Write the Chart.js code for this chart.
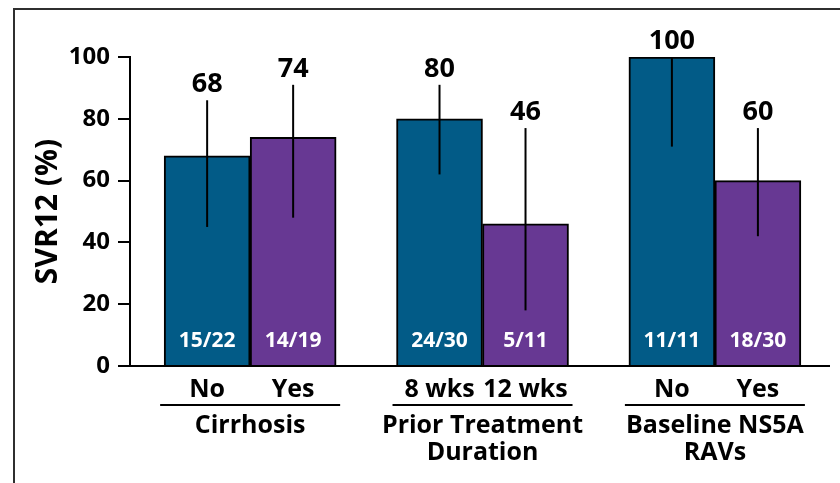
<!DOCTYPE html>
<html>
<head>
<meta charset="utf-8">
<script src="https://cdn.jsdelivr.net/npm/chart.js@4.4.1/dist/chart.umd.min.js"></script>
<style>
  html, body { margin: 0; padding: 0; background: #ffffff; }
  #wrap { position: relative; width: 840px; height: 483px; overflow: hidden; }
  #frame { position: absolute; left: 13px; top: 8px; right: -4px; bottom: -4px;
           border-left: 2px solid #2f2f2f; border-top: 2px solid #2f2f2f; }
  #c { position: absolute; left: 0; top: 0; }
</style>
</head>
<body>
<div id="wrap">
  <div id="frame"></div>
  <canvas id="c" width="840" height="483"></canvas>
</div>
<script>
// Subgroups and their SVR12 rates (%), with 95% confidence limits
const groupLabels = [['Cirrhosis'], ['Prior Treatment', 'Duration'], ['Baseline NS5A', 'RAVs']];
const firstLabels = ['No', '8 wks', 'No'];
const secondLabels = ['Yes', '12 wks', 'Yes'];
const firstSVR = [68, 80, 100];
const secondSVR = [74, 46, 60];
const firstLow = [45, 62, 71];
const firstHigh = [86, 91, 100];
const secondLow = [48, 18, 42];
const secondHigh = [91, 77, 77];
const firstCounts = ['15/22', '24/30', '11/11'];
const secondCounts = ['14/19', '5/11', '18/30'];
const yTicks = [0, 20, 40, 60, 80, 100];

const BLUE = '#025b87';
const PURPLE = '#673893';
const FONT = "'Open Sans', 'Noto Sans', sans-serif";

Chart.defaults.font.family = FONT;
Chart.defaults.color = '#000';

const toPoints = vals => vals.map((v, i) => ({ x: i, y: v }));

// Error bars, value labels, n/N counts, subgroup labels and bracket lines
const annotate = {
  id: 'annotate',
  afterDatasetsDraw(chart) {
    const ctx = chart.ctx;
    const y = chart.scales.y;
    const base = y.getPixelForValue(0);
    const lows = [firstLow, secondLow];
    const highs = [firstHigh, secondHigh];
    const values = [firstSVR, secondSVR];
    const counts = [firstCounts, secondCounts];
    const subs = [firstLabels, secondLabels];
    ctx.save();
    chart.data.datasets.forEach((ds, d) => {
      const meta = chart.getDatasetMeta(d);
      meta.data.forEach((bar, i) => {
        const hi = y.getPixelForValue(highs[d][i]);
        const lo = y.getPixelForValue(lows[d][i]);
        ctx.strokeStyle = '#000';
        ctx.lineWidth = 2;
        ctx.beginPath();
        ctx.moveTo(bar.x, lo);
        ctx.lineTo(bar.x, hi);
        ctx.stroke();

        ctx.textAlign = 'center';
        ctx.fillStyle = '#000';
        ctx.font = 'bold 27px ' + FONT;
        ctx.textBaseline = 'alphabetic';
        ctx.fillText(String(values[d][i]), bar.x, hi - 8);

        ctx.fillStyle = '#fff';
        ctx.font = 'bold 21px ' + FONT;
        ctx.textBaseline = 'middle';
        ctx.fillText(counts[d][i], bar.x, base - 25);

        ctx.fillStyle = '#000';
        ctx.font = 'bold 25px ' + FONT;
        ctx.fillText(subs[d][i], bar.x, base + 24);
      });
    });
    const m0 = chart.getDatasetMeta(0).data;
    const m1 = chart.getDatasetMeta(1).data;
    const lineY = base + 39;
    ctx.strokeStyle = '#000';
    ctx.lineWidth = 2;
    m0.forEach((b, i) => {
      const left = b.x - b.width / 2 - 4;
      const right = m1[i].x + m1[i].width / 2 + 4;
      ctx.beginPath();
      ctx.moveTo(left, lineY);
      ctx.lineTo(right, lineY);
      ctx.stroke();
    });
    ctx.restore();
  }
};

new Chart(document.getElementById('c'), {
  type: 'bar',
  data: {
    datasets: [
      {
        label: 'First subgroup',
        data: toPoints(firstSVR),
        backgroundColor: BLUE,
        borderColor: '#000',
        borderWidth: 2,
        barThickness: 86
      },
      {
        label: 'Second subgroup',
        data: toPoints(secondSVR),
        backgroundColor: PURPLE,
        borderColor: '#000',
        borderWidth: 2,
        barThickness: 86
      }
    ]
  },
  options: {
    responsive: false,
    animation: false,
    layout: { padding: { top: 57, right: 11, left: 0, bottom: 0 } },
    plugins: { legend: { display: false }, tooltip: { enabled: false } },
    scales: {
      x: {
        type: 'linear',
        offset: false,
        min: -0.517,
        max: 2.491,
        afterBuildTicks: s => { s.ticks = groupLabels.map((g, i) => ({ value: i })); },
        afterFit: s => { s.height = 117; },
        grid: { display: false, drawTicks: true, tickLength: 46 },
        border: { display: true, color: '#000', width: 2 },
        ticks: {
          autoSkip: false,
          maxRotation: 0,
          padding: 0,
          color: '#000',
          font: { size: 25, weight: 'bold', lineHeight: 1.08 },
          callback: (v, i) => groupLabels[i]
        }
      },
      y: {
        min: 0,
        max: 100,
        afterBuildTicks: s => { s.ticks = yTicks.map(v => ({ value: v })); },
        afterFit: s => { s.width = 130; },
        grid: { display: true, drawOnChartArea: false, drawTicks: true, tickLength: 12, color: '#000', lineWidth: 2 },
        border: { display: true, color: '#000', width: 2 },
        ticks: { padding: 8, color: '#000', font: { size: 24, weight: 'bold' } },
        title: {
          display: true,
          text: 'SVR12 (%)',
          color: '#000',
          font: { size: 30, weight: 'bold' },
          padding: { top: 30, bottom: 0 }
        }
      }
    }
  },
  plugins: [annotate]
});
</script>
</body>
</html>
